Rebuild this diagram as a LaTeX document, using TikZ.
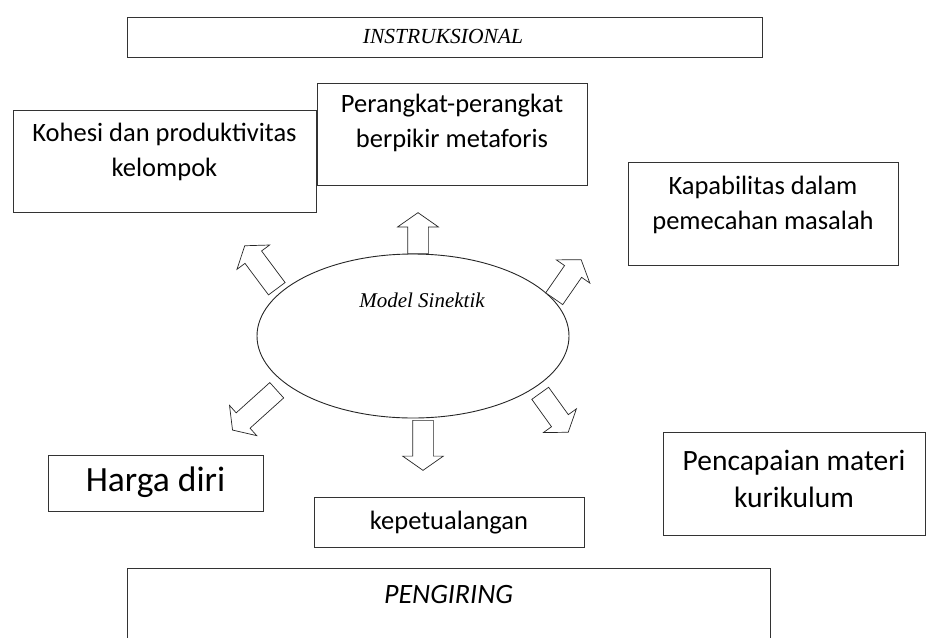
\documentclass[tikz,border=0pt]{standalone}
\usepackage{fontspec}
\setmainfont{Carlito}
\newfontfamily\timesfont{Liberation Serif}
\usetikzlibrary{positioning,shapes.geometric,shapes.arrows}
\tikzset{every picture/.style={line width=0.9pt}}
\tikzset{
  kotak/.style={draw=black!80, rectangle, inner sep=0pt},
  isi/.style={inner sep=0pt, align=center, font=\fontsize{26.5}{35}\selectfont},
  panah/.style={single arrow, draw=black!85, line width=0.7pt, fill=white, inner xsep=0pt, inner ysep=10pt,
    single arrow head extend=10pt, single arrow tip angle=110, anchor=tail},
}

\begin{document}
\begin{tikzpicture}[x=1pt,y=-1pt]
\clip (0,0) rectangle (928,637);
% kotak-kotak
\node[kotak, minimum width=635pt, minimum height=40pt] (instruksional) at (444.5,37) {};
\node[kotak, minimum width=270pt, minimum height=102pt] (perangkat) at (452,134) {};
\node[kotak, minimum width=303pt, minimum height=102pt] (kohesi) at (164.5,161) {};
\node[kotak, minimum width=270pt, minimum height=103pt] (kapabilitas) at (763,213.5) {};
\node[kotak, minimum width=215pt, minimum height=56pt] (harga) at (155.5,483) {};
\node[kotak, minimum width=270pt, minimum height=50pt] (petualang) at (449,522) {};
\node[kotak, minimum width=262pt, minimum height=103pt] (pencapaian) at (794,483.5) {};
\node[kotak, minimum width=643pt, minimum height=100pt] (pengiring) at (448.5,618) {};

% isi kotak
\node[inner sep=0pt, font=\timesfont\itshape\fontsize{21.5}{25}\selectfont] (teksinstruksional) at (443,36) {INSTRUKSIONAL};
\node[isi, below=11pt of perangkat.north] (teksperangkat) {Perangkat-perangkat\\berpikir metaforis};
\node[isi, below=13pt of kohesi.north] (tekskohesi) {Kohesi dan produktivitas\\kelompok};
\node[isi, below=14pt of kapabilitas.north] (tekskapabilitas) {Kapabilitas dalam\\pemecahan masalah};
\node[isi, font=\fontsize{35.5}{40}\selectfont, below=12pt of harga.north] (teksharga) {Harga diri};
\node[isi, below=14pt of petualang.north] (tekspetualang) {kepetualangan};
\node[isi, font=\fontsize{29.5}{37}\selectfont, below=18pt of pencapaian.north] (tekspencapaian) {Pencapaian materi\\kurikulum};
\node[isi, font=\itshape\fontsize{28}{32}\selectfont, below=17pt of pengiring.north] (tekspengiring) {PENGIRING};

% model
\node[draw=black!85, ellipse, minimum width=312pt, minimum height=164pt, inner sep=0pt] (model) at (413,336) {};
\node[inner sep=0pt, font=\timesfont\itshape\fontsize{21}{25}\selectfont] (teksmodel) at (422,300) {Model Sinektik};

% panah blok
\node[panah, minimum height=41pt, rotate=90] (panahatas) at (418,254) {};
\node[panah, minimum height=50pt, rotate=-90] (panahbawah) at (423,420) {};
\node[panah, minimum height=53.6pt, rotate=126.7] (panahkiriatas) at (277,289) {};
\node[panah, minimum height=47.4pt, rotate=55.3] (panahkananatas) at (554,299) {};
\node[panah, minimum height=59.5pt, rotate=222] (panahkiribawah) at (277,390) {};
\node[panah, minimum height=48pt, rotate=-54.3] (panahkananbawah) at (540,393) {};
\end{tikzpicture}
\end{document}
